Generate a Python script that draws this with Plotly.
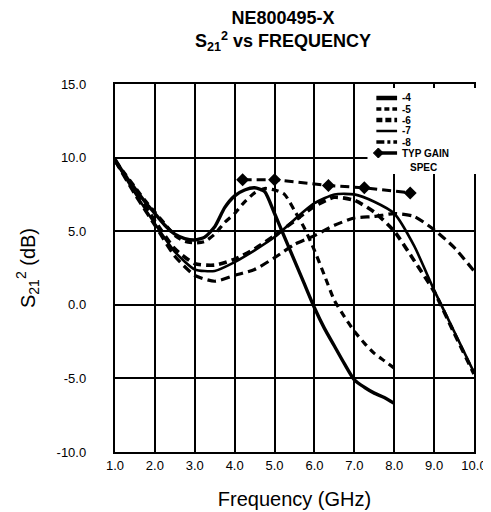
import plotly.graph_objects as go

# ---------------- data ----------------
freq_a = [1.0, 1.25, 1.5, 1.75, 2.0, 2.25, 2.5, 2.75, 3.0, 3.25, 3.5, 3.75, 4.0, 4.25, 4.5,
          4.75, 5.0, 5.25, 5.5, 5.75, 6.0, 6.25, 6.5, 6.75, 7.0, 7.25, 7.5, 7.75, 8.0]
gain_4 = [9.9, 8.8, 7.9, 7.0, 6.2, 5.4, 4.8, 4.5, 4.4, 4.6, 5.3, 6.6, 7.4, 7.8, 7.95,
          7.7, 6.2, 4.6, 3.0, 1.4, -0.2, -1.6, -2.8, -4.0, -5.1, -5.6, -6.0, -6.3, -6.7]
gain_5 = [9.8, 8.9, 8.0, 7.1, 6.3, 5.5, 4.7, 4.3, 4.2, 4.3, 4.8, 5.6, 6.2, 7.0, 7.6,
          7.9, 7.8, 7.5, 6.4, 5.2, 3.7, 2.0, 0.3, -0.8, -1.8, -2.6, -3.3, -3.8, -4.3]

freq_b = [1.0, 1.5, 2.0, 2.5, 3.0, 3.5, 4.0, 4.5, 5.0, 5.5, 6.0, 6.5, 7.0, 7.5, 8.0,
          8.5, 9.0, 9.5, 10.0]
gain_6 = [9.8, 7.8, 5.7, 3.8, 2.8, 2.7, 3.1, 3.8, 4.7, 5.7, 6.7, 7.3, 7.1, 6.3, 5.0,
          3.0, 0.9, -1.9, -4.7]
gain_7 = [9.8, 7.6, 5.5, 3.6, 2.4, 2.3, 2.9, 3.7, 4.6, 5.8, 6.9, 7.5, 7.5, 7.0, 6.2,
          4.0, 1.0, -1.8, -4.6]
gain_8 = [9.8, 7.5, 5.4, 3.3, 2.0, 1.6, 2.0, 2.4, 3.2, 4.1, 4.7, 5.4, 5.9, 6.0, 6.2,
          6.0, 5.1, 3.9, 2.3]

spec_freq = [4.2, 5.0, 6.35, 7.25, 8.4]
spec_gain = [8.5, 8.5, 8.1, 7.95, 7.6]

x_ticks = [1, 2, 3, 4, 5, 6, 7, 8, 9, 10]
x_ticklabels = ["1.0", "2.0", "3.0", "4.0", "5.0", "6.0", "7.0", "8.0", "9.0", "10.0"]
y_ticks = [-10, -5, 0, 5, 10, 15]
y_ticklabels = ["-10.0", "-5.0", "0.0", "5.0", "10.0", "15.0"]

legend_labels = ["-4", "-5", "-6", "-7", "-8"]

FONT = "Liberation Sans, Arial, sans-serif"

# ---------------- figure ----------------
fig = go.Figure()

def curve(x, y, width, dash, name):
    fig.add_trace(go.Scatter(
        x=x, y=y, mode="lines", name=name, showlegend=False,
        line=dict(color="black", width=width, dash=dash, shape="spline", smoothing=0.6),
    ))

curve(freq_a, gain_4, 3.4, "solid", "-4")
curve(freq_a, gain_5, 3.2, "7px,5px", "-5")
curve(freq_b, gain_6, 3.6, "8px,5px", "-6")
curve(freq_b, gain_7, 2.6, "solid", "-7")
curve(freq_b, gain_8, 3.2, "9px,5px", "-8")

fig.add_trace(go.Scatter(
    x=spec_freq, y=spec_gain, mode="lines+markers", name="TYP GAIN SPEC", showlegend=False,
    line=dict(color="black", width=3, dash="9px,5px"),
    marker=dict(symbol="diamond", size=10, color="black"),
))

# ---------------- manual legend (layout) ----------------
PLOT_L, PLOT_R, PLOT_T, PLOT_B = 107, 471, 76, 444

def px_x(px):
    return (px - PLOT_L) / (PLOT_R - PLOT_L)

def px_y(py):
    return (PLOT_B - py) / (PLOT_B - PLOT_T)

shapes = []
annotations = []

# white legend box covering grid in upper right
shapes.append(dict(type="rect", xref="paper", yref="paper", x0=px_x(363), x1=px_x(474),
                   y0=px_y(166), y1=px_y(80),
                   fillcolor="white", line=dict(width=0), layer="above"))

sample_x0, sample_x1, text_x = px_x(372), px_x(393), px_x(396)
rows_py = [90, 101, 112, 123, 134]
sample_styles = [(4.5, "solid"), (3.5, "5px,3px"), (4.5, "6px,3px"), (2.5, "solid"), (3.5, "8px,3px,3px,3px")]
for lab, py, (w, d) in zip(legend_labels, rows_py, sample_styles):
    yy = px_y(py)
    shapes.append(dict(type="line", xref="paper", yref="paper", x0=sample_x0, x1=sample_x1,
                       y0=yy, y1=yy, line=dict(color="black", width=w, dash=d), layer="above"))
    annotations.append(dict(xref="paper", yref="paper", x=text_x, y=yy, text="<b>%s</b>" % lab,
                            showarrow=False, xanchor="left", yanchor="middle",
                            font=dict(family=FONT, size=10, color="black")))

# TYP GAIN SPEC sample: line + diamond
ty = px_y(145)
shapes.append(dict(type="line", xref="paper", yref="paper", x0=sample_x0, x1=sample_x1,
                   y0=ty, y1=ty, line=dict(color="black", width=3.5), layer="above"))
dx, dy = 5 / (PLOT_R - PLOT_L), 5 / (PLOT_B - PLOT_T)
cx = sample_x0 + 2 / (PLOT_R - PLOT_L)
shapes.append(dict(type="path", xref="paper", yref="paper",
                   path="M %f %f L %f %f L %f %f L %f %f Z" % (cx - dx, ty, cx, ty + dy, cx + dx, ty, cx, ty - dy),
                   fillcolor="black", line=dict(color="black", width=1), layer="above"))
annotations.append(dict(xref="paper", yref="paper", x=text_x, y=ty, text="<b>TYP GAIN</b>",
                        showarrow=False, xanchor="left", yanchor="middle",
                        font=dict(family=FONT, size=10, color="black")))
annotations.append(dict(xref="paper", yref="paper", x=px_x(420), y=px_y(159), text="<b>SPEC</b>",
                        showarrow=False, xanchor="center", yanchor="middle",
                        font=dict(family=FONT, size=10, color="black")))

fig.update_layout(
    width=491, height=512,
    margin=dict(l=PLOT_L, r=491 - PLOT_R, t=PLOT_T, b=512 - PLOT_B),
    paper_bgcolor="white", plot_bgcolor="white",
    font=dict(family=FONT, color="black"),
    title=dict(text="<b>NE800495-X<br>S<sub>21</sub><sup>2</sup> vs FREQUENCY</b>",
               x=0.56, xanchor="center", y=1 - 16 / 512, yanchor="middle",
               font=dict(family=FONT, size=18, color="black")),
    shapes=shapes, annotations=annotations,
    showlegend=False,
)

fig.update_xaxes(
    range=[1, 10], tickmode="array", tickvals=x_ticks, ticktext=x_ticklabels,
    showgrid=True, gridcolor="black", gridwidth=2.4, zeroline=False,
    showline=True, linecolor="black", linewidth=2.4, mirror=True,
    ticks="",
    tickfont=dict(family=FONT, size=13, color="black"),
    title=dict(text="Frequency (GHz)", font=dict(family=FONT, size=20, color="black"), standoff=20),
)
fig.update_yaxes(
    range=[-10, 15], tickmode="array", tickvals=y_ticks, ticktext=y_ticklabels,
    showgrid=True, gridcolor="black", gridwidth=2.4, zeroline=False,
    showline=True, linecolor="black", linewidth=2.4, mirror=True,
    ticks="outside", ticklen=24, tickcolor="white",
    tickfont=dict(family=FONT, size=13, color="black"),
    title=dict(text="S<sub>21</sub><sup>2</sup> (dB)", font=dict(family=FONT, size=20, color="black"), standoff=16),
)

fig.write_html("out.html")
